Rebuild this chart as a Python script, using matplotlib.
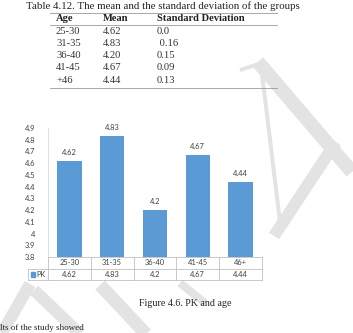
import matplotlib
matplotlib.use("Agg")
import matplotlib.pyplot as plt
from matplotlib.lines import Line2D
from matplotlib.patches import Rectangle

# table data (Table 4.12)
age_groups = ["25-30", "31-35", "36-40", "41-45", "+46"]
means = ["4.62", "4.83", "4.20", "4.67", "4.44"]
std_devs = ["0.0", " 0.16", "0.15", "0.09", "0.13"]

# chart data (Figure 4.6)
categories = ["25-30", "31-35", "36-40", "41-45", "46+"]
pk = [4.62, 4.83, 4.2, 4.67, 4.44]
pk_labels = ["4.62", "4.83", "4.2", "4.67", "4.44"]
y_ticks = [3.8, 3.9, 4.0, 4.1, 4.2, 4.3, 4.4, 4.5, 4.6, 4.7, 4.8, 4.9]

W, H = 353, 333
fig = plt.figure(figsize=(W / 100, H / 100), dpi=100)
fig.patch.set_facecolor("white")

serif = ["Liberation Serif", "DejaVu Serif"]
sans = ["Lato", "DejaVu Sans"]
blue = "#5b9bd5"
dark = "#404040"
grid = "#c0c0c0"


def px(x, y):
    # pixel position (top-left origin) -> figure fraction
    return x / W, 1 - y / H


# watermark strokes, drawn first so they sit behind everything
wm = "#e3e3e3"
strokes = [
    ((258, 62), (352, 172), 14),
    ((262, 74), (281, 230), 4),
    ((336, 142), (274, 236), 12),
    ((240, 70), (262, 63), 4),
    ((30, 284), (2, 333), 12),
    ((34, 290), (82, 336), 12),
    ((100, 285), (148, 336), 13),
    ((180, 283), (205, 303), 8),
]
for (x0, y0), (x1, y1), w in strokes:
    a, b = px(x0, y0)
    c, d = px(x1, y1)
    fig.add_artist(Line2D([a, c], [b, d], color=wm, lw=w * 0.72,
                          solid_capstyle="butt", zorder=0))

# ---- table above the chart ----
fig.text(*px(26, 6), "Table 4.12. The mean and the standard deviation of the groups",
         family=serif, fontsize=7.8, va="center", ha="left", color="#222222")
for yy in (12.5, 24.5, 87.5):
    a, b = px(50, yy)
    c, _ = px(277, yy)
    fig.add_artist(Line2D([a, c], [b, b], color="#9a9a9a", lw=0.6))

col_x = [56, 103, 157]
for x, head in zip(col_x, ["Age", "Mean", "Standard Deviation"]):
    fig.text(*px(x, 18.5), head, family=serif, fontsize=7.6, weight="bold",
             va="center", ha="left", color="#222222")
row_y = [31, 43.5, 55.7, 68, 80.5]
for i, yy in enumerate(row_y):
    for x, val in zip(col_x, [age_groups[i], means[i], std_devs[i]]):
        fig.text(*px(x, yy), val, family=serif, fontsize=7.6, va="center",
                 ha="left", color="#333333")

# ---- bar chart ----
left, right, top, bottom = 48, 262, 128, 257
ax = fig.add_axes([left / W, 1 - bottom / H, (right - left) / W, (bottom - top) / H])
ax.set_facecolor("none")
x = list(range(len(categories)))
ax.bar(x, pk, width=0.57, color=blue, zorder=3)
ax.set_xlim(-0.5, len(categories) - 0.5)
ax.set_ylim(3.8, 4.9)
ax.set_yticks(y_ticks)
ax.set_yticklabels([f"{t:g}" for t in y_ticks], family=sans, fontsize=5.4, color=dark)
ax.tick_params(axis="y", length=0, pad=9)
ax.set_xticks([])
for s in ("top", "right"):
    ax.spines[s].set_visible(False)
ax.spines["left"].set_color("#d9d9d9")
ax.spines["left"].set_linewidth(0.6)
ax.spines["bottom"].set_color(grid)
ax.spines["bottom"].set_linewidth(0.6)

for xi, v, lab in zip(x, pk, pk_labels):
    ax.text(xi, v + 0.045, lab, ha="center", va="bottom", family=sans,
            fontsize=5.4, color=dark)

# data table under the axis
n = len(categories)
row_h = 0.1
y0 = 3.8
y1 = y0 - row_h
y2 = y1 - row_h
xl = -0.97
kw = dict(color=grid, lw=0.6, clip_on=False)
ax.plot([xl, n - 0.5], [y1, y1], **kw)
ax.plot([xl, n - 0.5], [y2, y2], **kw)
ax.plot([xl, xl], [y1, y2], **kw)
for i in range(n + 1):
    ax.plot([i - 0.5, i - 0.5], [y0, y2], **kw)
for xi, cat, lab in zip(x, categories, pk_labels):
    ax.text(xi, (y0 + y1) / 2, cat, ha="center", va="center", family=sans,
            fontsize=5.4, color=dark, clip_on=False)
    ax.text(xi, (y1 + y2) / 2, lab, ha="center", va="center", family=sans,
            fontsize=5.4, color=dark, clip_on=False)
ax.add_patch(Rectangle((-0.9, (y1 + y2) / 2 - 0.022), 0.09, 0.044,
                       color=blue, clip_on=False))
ax.text(-0.78, (y1 + y2) / 2, "PK", ha="left", va="center", family=sans,
        fontsize=5.4, color=dark, clip_on=False)

# caption and body text at the page bottom
fig.text(*px(185, 303), "Figure 4.6. PK and age", family=serif, fontsize=7.2,
         ha="center", va="center", color="#222222")
fig.text(*px(0, 330), "lts of the study showed", family=serif, fontsize=6.5,
         ha="left", va="baseline", color="#222222")

fig.savefig("out.png", dpi=100)
